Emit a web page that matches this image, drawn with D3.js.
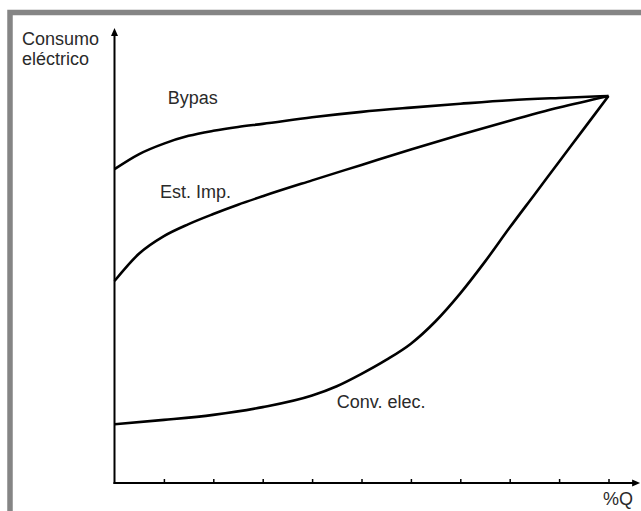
<!DOCTYPE html>
<html>
<head>
<meta charset="utf-8">
<script src="https://cdn.jsdelivr.net/npm/d3@7"></script>
<style>
  body { margin: 0; background: #fff; }
  text { font-family: "Liberation Sans", Arial, sans-serif; font-size: 18px; fill: #2a2a2a; }
</style>
</head>
<body>
<div id="chart"></div>
<script>
// %Q values (x) where the curves were read
const flowPct = [0, 5, 10, 15, 20, 25, 30, 40, 50, 60, 70, 80, 90, 100];
const convFlowPct = [0, 10, 20, 30, 40, 45, 50, 55, 60, 65, 70, 75, 80, 85, 90, 95, 100];
// relative power consumption (100 = full flow)
const bypasValues = [81.1, 85.0, 87.7, 89.7, 91.0, 92.0, 92.8, 94.5, 95.9, 97.0, 98.0, 98.9, 99.5, 100];
const estImpValues = [52.2, 59.3, 63.8, 66.9, 69.5, 71.9, 74.1, 78.2, 82.2, 86.2, 90.0, 93.6, 97.0, 100];
const convElecValues = [15.2, 16.3, 17.6, 19.6, 22.6, 25.0, 28.2, 31.8, 36.0, 41.8, 49.0, 57.2, 66.0, 74.5, 83.0, 91.5, 100];
const seriesNames = ['Bypas', 'Est. Imp.', 'Conv. elec.'];
// label anchor points in data units
const labelX = [10.8, 9.2, 45.0];
const labelY = [97.9, 73.6, 19.4];
const xTicks = [10, 20, 30, 40, 50, 60, 70, 80, 90, 100];
const yTitle = ['Consumo', 'eléctrico'];
const xTitle = '%Q';

const width = 641, height = 511;

const svg = d3.select("#chart")
    .append("svg")
    .attr("width", width)
    .attr("height", height);

svg.append("rect")
    .attr("width", width)
    .attr("height", height)
    .attr("fill", "#fff");

// grey frame (only left and top edges show)
svg.append("rect")
    .attr("x", 10)
    .attr("y", 12.5)
    .attr("width", 700)
    .attr("height", 600)
    .attr("fill", "none")
    .attr("stroke", "#858585")
    .attr("stroke-width", 5.5);

const xScale = d3.scaleLinear().domain([0, 100]).range([114.5, 608.5]);
const yScale = d3.scaleLinear().domain([0, 100]).range([483, 96]);

// X axis
const xEnd = 106.4;
const xAxisScale = xScale.copy().domain([0, xEnd]).range([xScale(0), xScale(xEnd)]);
const xAxis = d3.axisBottom(xAxisScale)
    .tickValues(xTicks)
    .tickSizeInner(-4)
    .tickSizeOuter(0)
    .tickFormat("");
const gx = svg.append("g")
    .attr("transform", "translate(0," + yScale(0) + ")")
    .call(xAxis);
gx.select(".domain")
    .attr("stroke", "#000")
    .attr("stroke-width", 2)
    .attr("d", "M" + (xScale(0) - 1) + ",0H" + (xScale(xEnd) - 6));
gx.selectAll(".tick line").attr("stroke", "#000").attr("stroke-width", 1.5);
// arrow head
const xTip = xScale(xEnd);
gx.append("path")
    .attr("d", "M" + xTip + ",0L" + (xTip - 8) + ",-3.5L" + (xTip - 8) + ",3.5Z")
    .attr("fill", "#000");

// Y axis
const yTop = yScale.invert(28);
const yAxisScale = yScale.copy().domain([0, yTop]).range([yScale(0), yScale(yTop)]);
const yAxis = d3.axisLeft(yAxisScale).tickValues([]).tickSizeOuter(0);
const gy = svg.append("g")
    .attr("transform", "translate(" + xScale(0) + ",0)")
    .call(yAxis);
gy.select(".domain")
    .attr("stroke", "#000")
    .attr("stroke-width", 2)
    .attr("d", "M0," + (yScale(0) + 1) + "V" + (yScale(yTop) + 6));
const yTip = yScale(yTop);
gy.append("path")
    .attr("d", "M0," + yTip + "L-3.5," + (yTip + 8) + "L3.5," + (yTip + 8) + "Z")
    .attr("fill", "#000");

// curves
const allSeries = [
    {x: flowPct, v: bypasValues},
    {x: flowPct, v: estImpValues},
    {x: convFlowPct, v: convElecValues}
];
const line = d3.line()
    .x(d => xScale(d[0]))
    .y(d => yScale(d[1]))
    .curve(d3.curveMonotoneX);

svg.selectAll(".curve")
    .data(allSeries)
    .join("path")
    .attr("class", "curve")
    .attr("d", s => line(s.v.map((v, i) => [s.x[i], v])))
    .attr("fill", "none")
    .attr("stroke", "#000")
    .attr("stroke-width", 2.6)
    .attr("stroke-linejoin", "miter");

// curve labels
svg.selectAll(".lbl")
    .data(seriesNames)
    .join("text")
    .attr("class", "lbl")
    .attr("x", (d, i) => xScale(labelX[i]))
    .attr("y", (d, i) => yScale(labelY[i]))
    .text(d => d);

// axis titles
svg.selectAll(".ytitle")
    .data(yTitle)
    .join("text")
    .attr("class", "ytitle")
    .attr("x", 22)
    .attr("y", (d, i) => 45 + i * 20)
    .text(d => d);

svg.append("text")
    .attr("text-anchor", "end")
    .attr("x", 633)
    .attr("y", 505)
    .text(xTitle);
</script>
</body>
</html>
